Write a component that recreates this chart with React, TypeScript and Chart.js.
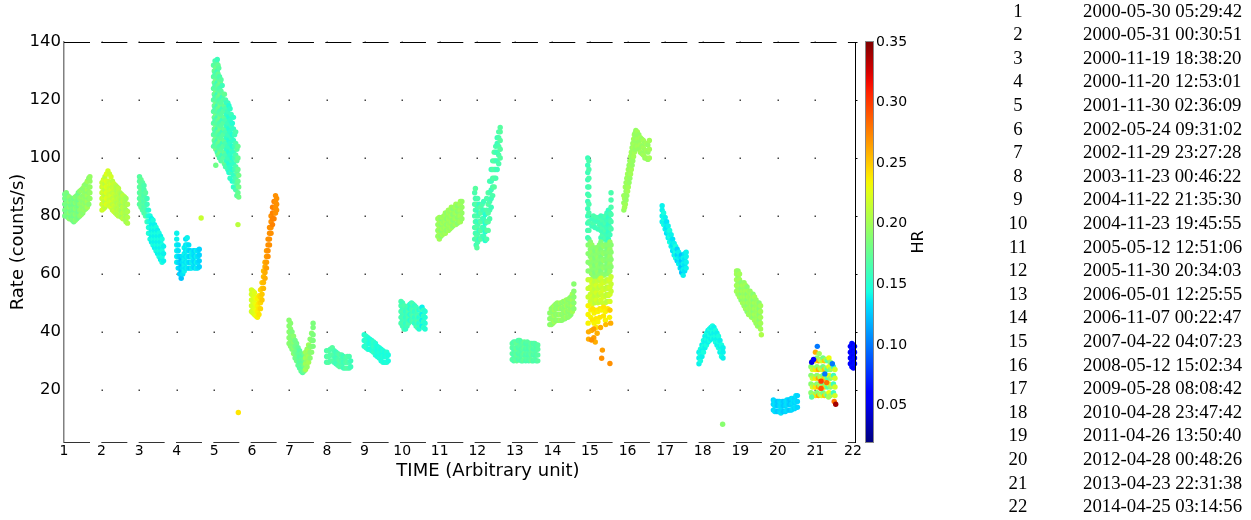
import React, { useEffect, useRef } from "react";
import { Chart, registerables } from "chart.js";
Chart.register(...registerables);

// Each column: [time, HR, rate, rate, ...]
const obs01 = [
  [1.02,.18,80,82,84,86,87.5],[1.06,.185,80.5,82.5,84.5,86.5,88],[1.10,.18,79.5,81.5,83.5,85.5,87],
  [1.14,.19,79,81,83,85,86.5],[1.18,.18,79.5,81.5,83.5,85.5],[1.22,.185,78.5,80.5,82.5,84.5,86],
  [1.26,.18,78,80,82,84,86],[1.30,.19,78.5,80.5,82.5,84.5,86.5],[1.34,.185,79,81,83,85,87],
  [1.38,.18,79.5,81.5,83.5,85.5,88],[1.42,.19,80,82,84,86,88.5],[1.46,.195,80.5,82.5,84.5,86.5,89],
  [1.50,.19,81,83,85,87,89.5],[1.54,.195,82,84,86,88,90.5],[1.58,.19,82.5,84.5,86.5,88.5,91],
  [1.62,.2,83,85,87,89,92],[1.66,.19,84,86,88,90,93],[1.69,.195,86,88,90,92,93.5],
];
const obs02 = [
  [2.01,.215,82,84,86,88,90,91.5],[2.05,.22,82.5,84.5,86.5,88.5,90.5,92.5],[2.09,.21,83,85,87,89,91,93.5],
  [2.13,.225,84,86,88,90,92,94.5],[2.17,.22,84,86,88,90,92,95.5],[2.21,.215,83.5,85.5,87.5,89.5,91.5,94.5],
  [2.25,.22,83,85,87,89,91,93.5],[2.29,.21,82,84,86,88,90,92],[2.33,.215,81.5,83.5,85.5,87.5,89.5,91],
  [2.37,.21,81,83,85,87,89,90.5],[2.41,.205,80.5,82.5,84.5,86.5,88.5,90],[2.45,.21,80,82,84,86,88,89.5],
  [2.49,.205,80,82,84,86,88],[2.53,.2,79.5,81.5,83.5,85.5,87.5],[2.57,.21,79,81,83,85,87],
  [2.61,.205,79,81,83,85,86.5],[2.65,.2,78,80,82,84,86],[2.69,.205,77.5,79.5,81.5,84],
];
const obs03 = [
  [3.01,.17,84,86,88,90,92,93.5],[3.05,.175,83,85,87,89,91,92.5],[3.09,.17,82,84,86,88,90,91.5],
  [3.13,.165,81,83,85,87,89,90.5],[3.17,.17,80,82,84,86,88],[3.21,.16,78,80,82,84,86],
  [3.25,.15,74,76,78,80,82],[3.29,.145,72,74,76,78,80],[3.33,.14,71,73,75,77,79],
  [3.37,.145,70,72,74,76,78.5],[3.41,.14,69,71,73,75,77],[3.45,.145,68,70,72,74,76],
  [3.49,.14,67,69,71,73,75],[3.53,.145,66,68,70,72,74],[3.57,.14,65,67,69,71,73],
  [3.61,.145,64,66,68,70,72],[3.65,.14,64.5,67,69.5],
];
const obs04 = [
  [4.00,.14,64,66,68,70,72,74],[4.04,.135,62,64,66,68,70],[4.08,.13,60,62,64,66],
  [4.12,.125,58.5,61,63,65],[4.16,.135,60,62,64,66],[4.20,.14,61,63,65,67,69],
  [4.24,.135,62,64,66,68,70,72],[4.28,.14,62,64,66,68,70,72.5],[4.32,.135,62,64,66,68,70],
  [4.36,.13,62,64,66,68],[4.40,.14,62,64,66,67.5],[4.44,.135,62.5,64.5,66.5,68],
  [4.48,.13,62,64,66,68],[4.52,.14,62,64,66,68],[4.56,.135,62,64,66,68],
  [4.60,.13,62.5,64.5,66.5,68.5],[4.65,.215,79.3],
];
const obs05 = [
  [4.98,.17,104,108,112,116,120,124,128,132],[5.00,.175,106,110,114,118,122,126,130],
  [5.02,.165,105,109,113,117,121,125,129,133.5],[5.04,.18,97.5,103,107,111,115,119,123,127,131],
  [5.06,.17,104,108,112,116,120,124,128,133],[5.08,.16,102,106,110,114,118,122,126,130,134],
  [5.10,.175,101,105,109,113,117,121,125,129,132],[5.12,.17,103,107,111,115,119,123,127,131],
  [5.14,.165,100,104,108,112,116,120,124,128],[5.16,.18,102,106,110,114,118,122,126],
  [5.18,.17,99,103,107,111,115,119,123,127],[5.21,.16,101,105,109,113,117,121,125],
  [5.24,.17,100,104,108,112,116,120],[5.27,.175,98,102,106,110,114,118,122],
  [5.30,.165,97,101,105,109,113,117,120],[5.33,.155,99,103,107,111,115,119],
  [5.36,.16,96,100,104,108,112,116,119],[5.39,.15,95,98,102,106,110,114,118],
  [5.42,.155,93,97,101,105,109,113,117],[5.45,.16,95,99,103,107,111,115],
  [5.48,.15,92,96,100,104,108,112],[5.51,.155,90,94,98,102,106,110,114],
  [5.54,.16,92,96,100,104,108],[5.57,.165,89,93,97,101,105,109],
  [5.60,.17,87,91,95,99,103],[5.63,.175,88,92,96,100,104],[5.65,.18,86.5,90,94],
  [5.63,.21,77],[5.64,.24,12.2],
];
const obs06 = [
  [5.99,.22,47,49,51,53,54.5],[6.03,.22,46.5,48.5,50.5,52.5,54],[6.07,.225,46,48,50,52,53.5],
  [6.11,.23,45.5,47.5,49.5,51.5],[6.15,.235,45,47,49,51.5],[6.19,.24,46,48,50,52.5],
  [6.23,.245,48,50,52,54.5],[6.27,.25,51,53,55,57],[6.31,.255,55,57,59,61],
  [6.35,.26,58.5,60.5,62.5,64],[6.39,.265,62,64,66,68],[6.43,.27,66,68,70,72],
  [6.47,.27,70,72,74,76],[6.51,.27,74,76,78,80],[6.55,.275,77,79,81,83],
  [6.59,.275,79,81,83,85],[6.63,.27,81,83,85,87],[6.66,.27,82,84,86],
];
const obs07 = [
  [6.99,.19,36,38,40,42,44],[7.03,.19,35,37,39,41,43],[7.07,.185,34,36,38,40],
  [7.11,.19,32.5,34.5,36.5,38.5],[7.15,.18,31,33,35,37],[7.19,.18,30,32,34,36],
  [7.23,.175,28.5,30.5,32.5,34.5],[7.27,.17,27.5,29.5,31.5,33.5],[7.31,.175,26.5,28.5,30.5,32.5],
  [7.35,.17,26,28,30,32],[7.39,.18,26.5,28.5,30.5,32.5],[7.43,.2,27,29,31,33],
  [7.47,.195,28,30,32,34],[7.51,.2,29.5,31.5,33.5,35.5],[7.55,.19,31,33,35,37.5],
  [7.59,.19,33,35,37,39.5],[7.63,.185,35,37,39,41.5,43],
];
const obs08 = [
  [7.99,.165,29.5,31.5,33.5],[8.04,.17,29.5,31.5,33.5],[8.09,.165,30,32,34],
  [8.14,.17,30,32,34.5],[8.19,.165,29.5,31.5,33.5],[8.24,.16,29,31,33],
  [8.29,.165,28.5,30.5,32.5],[8.34,.17,28,30,32],[8.39,.165,28.5,30.5,32],
  [8.44,.16,27.5,29.5,31.5],[8.49,.165,27.5,29.5,31],[8.54,.17,27.5,29.5,31.5],
  [8.59,.165,27.5,29.5,31.5],[8.63,.16,28,30],
];
const obs09 = [
  [8.99,.15,35,37,39],[9.04,.155,34.5,36.5,38.5],[9.09,.15,34,36,38],
  [9.14,.145,34,36,37.5],[9.19,.15,33.5,35.5,37],[9.24,.155,33,35,36.5],
  [9.29,.15,32,34,36],[9.34,.145,31.5,33.5,35],[9.39,.15,31,33,34.5],
  [9.44,.145,30,32,34],[9.49,.15,29.5,31.5,33.5],[9.54,.145,29.5,31.5,33],
  [9.59,.15,29.5,31.5,33],[9.63,.145,30,32],
];
const obs10 = [
  [9.97,.165,43,45,47,49,50.5],[10.01,.16,42,44,46,48,50],[10.05,.165,41,43,45,47,49],
  [10.09,.155,41,43,45,47],[10.13,.16,42,44,46,48],[10.17,.165,43,45,47,49],
  [10.21,.15,44,46,48,49.5],[10.25,.16,44,46,48,50],[10.29,.165,43.5,45.5,47.5,49.5],
  [10.33,.155,43,45,47,49],[10.37,.16,42,44,46,48.5],[10.41,.165,41.5,43.5,45.5,47.5],
  [10.45,.15,41,43,45,47.5],[10.49,.16,42,44,46,48],[10.53,.14,42,44,46,48.5],
  [10.57,.155,41.5,43.5,45.5,47.5],[10.61,.15,41,43,45,47],
];
const obs11 = [
  [10.95,.195,73,75,77,79],[10.99,.2,72,74,76,78,79.5],[11.03,.19,73,75,77,79],
  [11.07,.2,73.5,75.5,77.5,79.5],[11.11,.195,74,76,78,80],[11.15,.2,74,76,78,80,81],
  [11.19,.19,75,77,79,81],[11.23,.2,75,77,79,81,82],[11.27,.195,75.5,77.5,79.5,81.5],
  [11.31,.2,76,78,80,82,83],[11.35,.19,76.5,78.5,80.5,82.5],[11.39,.195,77,79,81,83],
  [11.43,.2,77,79,81,83,84],[11.47,.19,77.5,79.5,81.5,83.5],[11.51,.195,78,80,82,84],
  [11.55,.2,78,80,82,84,85],[11.59,.195,79,81,83,85],
];
const obs12 = [
  [11.93,.165,72,76,80,84,88],[11.95,.17,74,78,82,86,89.5],[11.97,.16,70,74,78,82,86],
  [11.99,.17,69,73,76,80,84],[12.01,.165,71,74,77,80,83,86],[12.05,.155,72,75,78,81,84],
  [12.09,.17,72,75,78,81,83],[12.13,.165,73,76,79,82,84],[12.17,.16,73,76,79,82,85],
  [12.21,.15,71.5,74.5,77.5,80.5],[12.25,.165,72,75,78,82,86],[12.29,.17,75,78,81,84,88],
  [12.33,.165,79,82,85,88,92],[12.37,.16,83,86,89,92,96],[12.41,.165,87,90,93,96,99],
  [12.45,.17,90,93,96,99,102],[12.49,.165,93,96,99,102,104],[12.53,.16,96,99,102,105,107],
  [12.57,.165,98,101,104,107,109],[12.61,.17,100,103,106,109,110.5],
];
const obs13 = [
  [12.93,.17,30.5,32.5,34.5,36],[12.97,.165,30,32,34,36.5],[13.01,.17,30.5,32.5,34.5,36.5],
  [13.05,.175,30,32,34,36],[13.09,.165,30.5,32.5,34.5,37],[13.13,.17,31,33,35,37],
  [13.17,.165,30,32,34,36.5],[13.21,.17,30,32,34,36],[13.25,.175,30.5,32.5,34.5,36.5],
  [13.29,.165,30,32,34,36],[13.33,.17,30.5,32.5,34.5,36.5],[13.37,.165,30,32,34,35.5],
  [13.41,.17,30.5,32.5,34.5,36],[13.45,.175,30,32,34,36],[13.49,.165,30,32,34,36],
  [13.53,.17,30.5,32.5,34.5,36],[13.57,.165,30,32,34,35.5],[13.61,.17,30,32,34,35.5],
];
const obs14 = [
  [13.93,.19,42.5,44.5,46.5],[13.97,.195,42.5,44.5,46.5,48],[14.01,.19,43,45,47,48.5],
  [14.05,.2,43.5,45.5,47.5,49],[14.09,.19,44,46,48,49.5],[14.13,.195,44,46,48,50],
  [14.17,.19,44,46,48,49.5],[14.21,.2,44,46,48,50],[14.25,.19,44,46,48,50],
  [14.29,.195,44.5,46.5,48.5,50.5],[14.33,.19,44.5,46.5,48.5,50.5],[14.37,.2,45,47,49,51],
  [14.41,.19,45,47,49,51],[14.45,.195,45.5,47.5,49.5,51.5],[14.49,.19,46,48,50,52],
  [14.53,.2,47,49,51,53],[14.57,.19,48,50,52,54,56.5],
];
const obs15 = [
  [14.94,.16,100,97.5,95,92.5,90,87.5,85,82.5,80,77.5,75,72.5],[14.97,.165,99,96,93,90,87,84,81,78,75,72],
  [15.05,.16,79,76.5],[15.09,.165,80,77.5],[15.13,.16,78.5,76],[15.17,.165,79.5],[15.21,.16,78,75.5],
  [15.25,.165,79.5,77],[15.29,.16,80,77.5,75,72.5],[15.33,.165,78.5,76,73.5],[15.37,.16,79.5,77,74.5,72],
  [15.41,.165,80,77.5,75,72.5],[15.45,.16,81,78.5,76,73.5,71],[15.49,.155,82,79.5,77,74.5,72],
  [15.53,.16,81,78.5,76,73.5],[15.56,.165,83,80.5,78,75.5,85.5,88],
  [14.95,.19,70,67,64,61],
  [15.01,.19,71,68.5,66,63.5,61],[15.05,.195,70,67.5,65,62.5,60],[15.09,.19,69,66.5,64,61.5,59],
  [15.13,.185,68,65.5,63,60.5],[15.17,.19,69,66.5,64,61.5,59],[15.21,.195,68,65.5,63,60.5],
  [15.25,.19,70,67.5,65,62.5,60],[15.29,.185,71,68.5,66,63.5,61],[15.33,.19,70,67.5,65,62.5,60],
  [15.37,.195,69.5,67,64.5,62,59.5],[15.41,.19,70,67.5,65,62.5,60],[15.45,.185,68.5,66,63.5,61],
  [15.49,.19,70,67.5,65,62.5,60],[15.53,.195,71,68.5,66,63.5,61],[15.56,.19,70,67.5,65,62.5],
  [14.95,.215,58,55,52],
  [15.01,.215,58,55.5,53,50.5],[15.05,.22,57,54.5,52,49.5],[15.09,.215,56.5,54,51.5],
  [15.13,.21,57.5,55,52.5,50],[15.17,.22,56,53.5,51],[15.21,.215,57.5,55,52.5,50],
  [15.25,.21,58,55.5,53,50.5],[15.29,.22,58.5,56,53.5,51],[15.33,.215,57.5,55,52.5,50],
  [15.37,.22,57,54.5,52],[15.41,.215,57.5,55,52.5,50],[15.45,.21,58,55.5,53,50.5],
  [15.49,.215,57.5,55,52.5],[15.53,.22,58,55.5,53,50.5],[15.56,.215,59,56.5,54],
  [14.95,.235,49,46,43],
  [15.02,.235,47.5,45],[15.07,.24,48,44],[15.11,.235,46.5,43],[15.16,.24,47.5,44.5,41.5],
  [15.21,.235,47,43.5],[15.26,.24,48,45],[15.31,.235,47.5],[15.36,.24,48.5,45.5],
  [15.41,.235,47,44],[15.47,.24,48],[15.52,.235,47.5,45],[15.53,.25,47.5],
  [14.96,.26,40,37.5],
  [15.04,.26,40.5],[15.10,.265,41,38],[15.14,.26,36.5],[15.19,.26,39.5],[15.28,.26,41.5],
  [15.42,.255,42.5],[15.55,.26,43],
  [15.04,.27,37.2],[15.33,.265,33.7],[15.31,.27,30.9],[15.53,.27,29.1],
];
const obs16 = [
  [15.90,.195,82,84.5,87],[15.92,.2,83,86],[15.94,.2,84,87,90],[15.96,.195,85.5,88.5,91.5],
  [15.98,.195,87,90,93],[16.00,.2,88.5,91.5,94.5],[16.02,.2,90,93,96],[16.04,.195,91.5,94.5,97.5],
  [16.06,.195,93,96,99],[16.08,.2,94.5,97.5,100.5],[16.10,.2,96,99,102],[16.12,.195,97.5,100.5,103.5],
  [16.14,.195,99,102,105],[16.16,.2,100.5,103.5,106.5],[16.18,.2,102,105,108],[16.20,.195,103,106,108.5],
  [16.22,.195,104,107,109.5],[16.26,.2,104,106.5,109],[16.30,.195,103,105.5,108],
  [16.34,.2,102,104.5,107],[16.38,.195,101.5,104,106.5],[16.42,.2,101,103.5,106],
  [16.46,.195,100,102.5,105],[16.50,.2,100,102.5,105],[16.54,.195,99.5,102,104.5],
  [16.58,.2,100,103,106],
];
const obs17 = [
  [16.92,.14,78,80,82,83.5],[16.96,.145,77,79,81],[17.00,.14,75.5,77.5,79.5],
  [17.04,.135,74,76,78],[17.08,.14,72.5,74.5,76.5],[17.12,.145,71,73,75],
  [17.16,.14,69.5,71.5,73.5],[17.20,.135,68,70,72],[17.24,.14,66.5,68.5,70.5],
  [17.28,.145,65.5,67.5,69.5],[17.32,.13,64.5,66.5,68.5],[17.36,.14,63.5,65.5,67.5],
  [17.40,.135,62,64,66],[17.44,.125,60.5,62.5,64.5,66.5],[17.48,.14,59.5,61.5,63.5,65.5],
  [17.52,.135,61,63,65,67],[17.56,.14,62,64,66,67.5],
];
const obs18 = [
  [17.90,.14,29,31,33],[17.94,.145,30,32,34],[17.98,.14,31.5,33.5,35.5],[18.02,.145,33,35,37],
  [18.06,.14,34.5,36.5,38.5],[18.10,.145,35.5,37.5,39.5],[18.14,.14,36.5,38.5,40.5],
  [18.18,.145,37,39,41],[18.22,.14,37.5,39.5,41.5],[18.26,.145,38,40,42],
  [18.30,.14,37.5,39.5,41.5],[18.34,.145,36.5,38.5,40.5],[18.38,.14,35.5,37.5,39.5],
  [18.42,.145,34.5,36.5,38.5],[18.46,.14,33,35,37],[18.50,.145,31.5,33.5,35.5],
  [18.54,.14,31,33,34.5],[18.53,.19,8.1],
];
const obs19 = [
  [18.90,.2,54,56,58,60,61],[18.94,.195,53,55,57,59,61],[18.98,.2,52,54,56,58,60],
  [19.02,.19,51,53,55,57],[19.06,.2,50,52,54,56],[19.10,.195,49,51,53,55,57],
  [19.14,.2,48,50,52,54,56],[19.18,.19,47,49,51,53,55.5],[19.22,.2,46,48,50,52,54],
  [19.26,.195,46,48,50,52,54],[19.30,.2,45,47,49,51,53],[19.34,.19,45,47,49,51,53],
  [19.38,.2,44,46,48,50,52],[19.42,.195,43,45,47,49,51],[19.46,.2,42,44,46,48,50],
  [19.50,.19,42,44,46,48,50],[19.54,.2,41,43,45,47,49],[19.56,.205,39],
];
const obs20 = [
  [19.88,.13,13,15,16.5],[19.92,.135,12.5,14.5,16],[19.96,.13,12.5,14.5,16],[20.00,.125,12.5,14.5,16],
  [20.04,.13,12.5,14.5,16],[20.08,.135,12,14,15.5],[20.12,.13,12.5,14.5,16],[20.16,.125,12.5,14.5,16],
  [20.20,.13,12.5,14.5,16],[20.24,.135,13,15,16.5],[20.28,.13,13,15,16.5],[20.32,.125,13,15,16.5],
  [20.36,.13,13,15,17],[20.40,.135,13.5,15.5,17],[20.44,.13,13.5,15.5,17],[20.48,.135,14,16,18],
  [20.52,.13,14,16,18],
];
const obs21 = [
  [20.88,.19,19,22,25,28],[20.92,.22,18,21,24,27,30],[20.96,.2,18.5,21.5,24.5,27.5],
  [21.00,.24,18,21,24,27,30],[21.04,.19,19,22,25,28,31],[21.08,.26,18,21,24,27,30],
  [21.12,.2,18.5,21.5,24.5,27.5,30.5],[21.16,.22,18,21,24,27,30],[21.20,.18,19,22,25,28,31],
  [21.24,.25,18,21,24,27,30],[21.28,.2,18.5,21.5,24.5,27.5,30.5],[21.32,.17,18,21,24,27,30],
  [21.36,.23,19,22,25,28,31],[21.40,.19,18,21,24,27,29.5],[21.44,.21,18.5,21.5,24.5,27.5],
  [21.48,.16,19,22,25,28],[21.52,.22,18,21,24,27],
  [20.90,.17,17.5],[20.90,.05,29.5],[21.00,.26,33],[21.05,.1,35],[21.10,.2,32.5],
  [21.15,.29,20.5],[21.15,.3,23],[21.30,.28,22.5],[21.35,.2,17.5],[21.45,.1,29],
  [21.50,.28,16],[21.54,.34,15],[20.95,.06,30.5],[21.25,.1,25.5],
];
const obs22 = [
  [21.93,.06,29,31,33,35],[21.97,.065,28,30,32,34,36],[22.01,.06,27.5,29.5,31.5,33.5,35.5],[22.04,.065,29,31,33,35],
];

const observations = [obs01, obs02, obs03, obs04, obs05, obs06, obs07, obs08, obs09, obs10, obs11,
  obs12, obs13, obs14, obs15, obs16, obs17, obs18, obs19, obs20, obs21, obs22];

const xTicks = [1,2,3,4,5,6,7,8,9,10,11,12,13,14,15,16,17,18,19,20,21,22];
const yTicks = [20, 40, 60, 80, 100, 120, 140];
const hrTicks = [0.05, 0.10, 0.15, 0.20, 0.25, 0.30, 0.35];
const obsIds = ["1","2","3","4","5","6","7","8","9","10","11","12","13","14","15","16","17","18","19","20","21","22"];
const obsDates = [
  "2000-05-30 05:29:42","2000-05-31 00:30:51","2000-11-19 18:38:20","2000-11-20 12:53:01",
  "2001-11-30 02:36:09","2002-05-24 09:31:02","2002-11-29 23:27:28","2003-11-23 00:46:22",
  "2004-11-22 21:35:30","2004-11-23 19:45:55","2005-05-12 12:51:06","2005-11-30 20:34:03",
  "2006-05-01 12:25:55","2006-11-07 00:22:47","2007-04-22 04:07:23","2008-05-12 15:02:34",
  "2009-05-28 08:08:42","2010-04-28 23:47:42","2011-04-26 13:50:40","2012-04-28 00:48:26",
  "2013-04-23 22:31:38","2014-04-25 03:14:56",
];

const HR_MIN = 0.02;
const HR_MAX = 0.35;
const X_MIN = 1;
const X_MAX = 22.053;
const Y_MIN = 2;
const Y_MAX = 140;

const JR = [[0,0],[0.35,0],[0.66,1],[0.89,1],[1,0.5]];
const JG = [[0,0],[0.125,0],[0.375,1],[0.64,1],[0.91,0],[1,0]];
const JB = [[0,0.5],[0.11,1],[0.34,1],[0.65,0],[1,0]];
function seg(tab: number[][], v: number) {
  if (v <= tab[0][0]) return tab[0][1];
  for (let i = 1; i < tab.length; i++) {
    if (v <= tab[i][0]) {
      const [x0, y0] = tab[i - 1];
      const [x1, y1] = tab[i];
      return y0 + (y1 - y0) * (v - x0) / (x1 - x0);
    }
  }
  return tab[tab.length - 1][1];
}
function jet(v: number) {
  const c = Math.max(0, Math.min(1, v));
  const r = Math.round(255 * seg(JR, c));
  const g = Math.round(255 * seg(JG, c));
  const b = Math.round(255 * seg(JB, c));
  return `rgb(${r},${g},${b})`;
}
function hrColor(hr: number) {
  return jet((hr - HR_MIN) / (HR_MAX - HR_MIN));
}

const points: { x: number; y: number; hr: number }[] = [];
observations.forEach((cols) => {
  cols.forEach((col) => {
    const [t, hr, ...rates] = col;
    rates.forEach((r) => points.push({ x: t, y: r, hr }));
  });
});

const framePlugin = {
  id: "framePlugin",
  beforeDatasetsDraw(chart: any) {
    const { ctx, scales } = chart;
    const xs = scales.x, ys = scales.y;
    ctx.save();
    ctx.fillStyle = "#444";
    for (const xv of xTicks) {
      if (xv === 1 || xv === 22) continue;
      const px = xs.getPixelForValue(xv);
      for (const yv of yTicks) {
        const py = ys.getPixelForValue(yv);
        ctx.fillRect(Math.round(px) - 0.5, Math.round(py) - 0.5, 1.5, 1.5);
      }
    }
    ctx.restore();
  },
  afterDatasetsDraw(chart: any) {
    const { ctx, chartArea, scales } = chart;
    const { left, right, top, bottom } = chartArea;
    ctx.save();
    ctx.lineWidth = 1;
    ctx.setLineDash([26, 11.33]);
    ctx.strokeStyle = "#000";
    ctx.beginPath();
    ctx.moveTo(left, top + 0.5);
    ctx.lineTo(right, top + 0.5);
    ctx.stroke();
    ctx.strokeStyle = "#333";
    ctx.beginPath();
    ctx.moveTo(left, bottom + 0.5);
    ctx.lineTo(right, bottom + 0.5);
    ctx.stroke();
    ctx.setLineDash([]);
    ctx.strokeStyle = "#000";
    ctx.beginPath();
    ctx.moveTo(right + 0.5, top);
    ctx.lineTo(right + 0.5, bottom + 1);
    ctx.stroke();
    for (const yv of yTicks) {
      const py = Math.round(scales.y.getPixelForValue(yv)) + 0.5;
      ctx.beginPath();
      ctx.moveTo(right, py);
      ctx.lineTo(right + 2.5, py);
      ctx.stroke();
    }
    const cbL = 866, cbR = 873;
    const hrScale = scales.hr;
    const yTop = hrScale.getPixelForValue(HR_MAX);
    const yBot = hrScale.getPixelForValue(HR_MIN);
    const grad = ctx.createLinearGradient(0, yBot, 0, yTop);
    for (let i = 0; i <= 40; i++) grad.addColorStop(i / 40, jet(i / 40));
    ctx.fillStyle = grad;
    ctx.fillRect(cbL, yTop, cbR - cbL, yBot - yTop);
    ctx.strokeStyle = "#888";
    ctx.lineWidth = 1;
    ctx.strokeRect(cbL - 0.5, yTop - 0.5, cbR - cbL + 1, yBot - yTop + 1);
    ctx.fillStyle = "#000";
    ctx.font = "18px 'DejaVu Sans'";
    ctx.textAlign = "center";
    ctx.textBaseline = "alphabetic";
    ctx.fillText("TIME (Arbitrary unit)", 488, 476);
    ctx.font = "16px 'DejaVu Sans'";
    ctx.translate(923, (yTop + yBot) / 2);
    ctx.rotate(-Math.PI / 2);
    ctx.fillText("HR", 0, 0);
    ctx.restore();
  },
};

export default function App() {
  const ref = useRef<HTMLCanvasElement | null>(null);
  useEffect(() => {
    if (!ref.current) return;
    Chart.defaults.font.family = "'DejaVu Sans'";
    const chart = new Chart(ref.current, {
      type: "scatter",
      data: {
        datasets: [
          {
            data: points,
            pointRadius: 2.7,
            pointHoverRadius: 2.7,
            pointBorderWidth: 0,
            pointBackgroundColor: (c: any) => (c.raw ? hrColor(c.raw.hr) : "#000"),
            clip: false as any,
          },
        ],
      },
      options: {
        responsive: false,
        animation: false,
        events: [],
        layout: { padding: { top: 42, left: 0, right: 0, bottom: 0 } },
        plugins: { legend: { display: false }, tooltip: { enabled: false } },
        scales: {
          x: {
            type: "linear",
            min: X_MIN,
            max: X_MAX,
            grid: { display: false, drawTicks: false },
            border: { display: false },
            ticks: { font: { size: 14 }, color: "#000", padding: 1, maxRotation: 0, autoSkip: false, callback: (v: any) => String(v) },
            afterBuildTicks: (s: any) => { s.ticks = xTicks.map((v) => ({ value: v })); },
            afterFit: (s: any) => { s.height = 78; },
          },
          y: {
            type: "linear",
            position: "left",
            min: Y_MIN,
            max: Y_MAX,
            grid: { display: false, drawTicks: false },
            border: { display: true, color: "#808080", width: 1.5 },
            ticks: { font: { size: 16.5 }, color: "#000", padding: 3, callback: (v: any) => String(v) },
            afterBuildTicks: (s: any) => { s.ticks = yTicks.map((v) => ({ value: v })); },
            afterFit: (s: any) => { s.width = 64; },
            title: { display: true, text: "Rate (counts/s)", font: { size: 18 }, color: "#000", padding: { top: 8, bottom: 0 } },
          },
          hr: {
            type: "linear",
            position: "right",
            min: HR_MIN,
            max: HR_MAX,
            grid: { display: false, drawTicks: false },
            border: { display: false },
            ticks: { font: { size: 14 }, color: "#000", padding: 21, callback: (v: any) => Number(v).toFixed(2) },
            afterBuildTicks: (s: any) => { s.ticks = hrTicks.map((v) => ({ value: v })); },
            afterFit: (s: any) => { s.width = 105; },
          },
        },
      },
      plugins: [framePlugin],
    } as any);
    return () => chart.destroy();
  }, []);

  const rowH = 23.59;
  return (
    <div style={{ position: "fixed", left: 0, top: 0, width: 1251, height: 520, background: "#fff", overflow: "hidden" }}>
      <canvas ref={ref} width={960} height={520} style={{ position: "absolute", left: 0, top: 0, width: 960, height: 520 }} />
      {obsIds.map((id, i) => (
        <div key={id} style={{ position: "absolute", top: -1.3 + rowH * i, height: rowH, lineHeight: rowH + "px", left: 0, width: 1251, fontFamily: "'Liberation Serif', serif", fontSize: 18.8, color: "#000", whiteSpace: "nowrap" }}>
          <span style={{ position: "absolute", left: 998, width: 40, textAlign: "center" }}>{id}</span>
          <span style={{ position: "absolute", left: 1083 }}>{obsDates[i]}</span>
        </div>
      ))}
    </div>
  );
}
